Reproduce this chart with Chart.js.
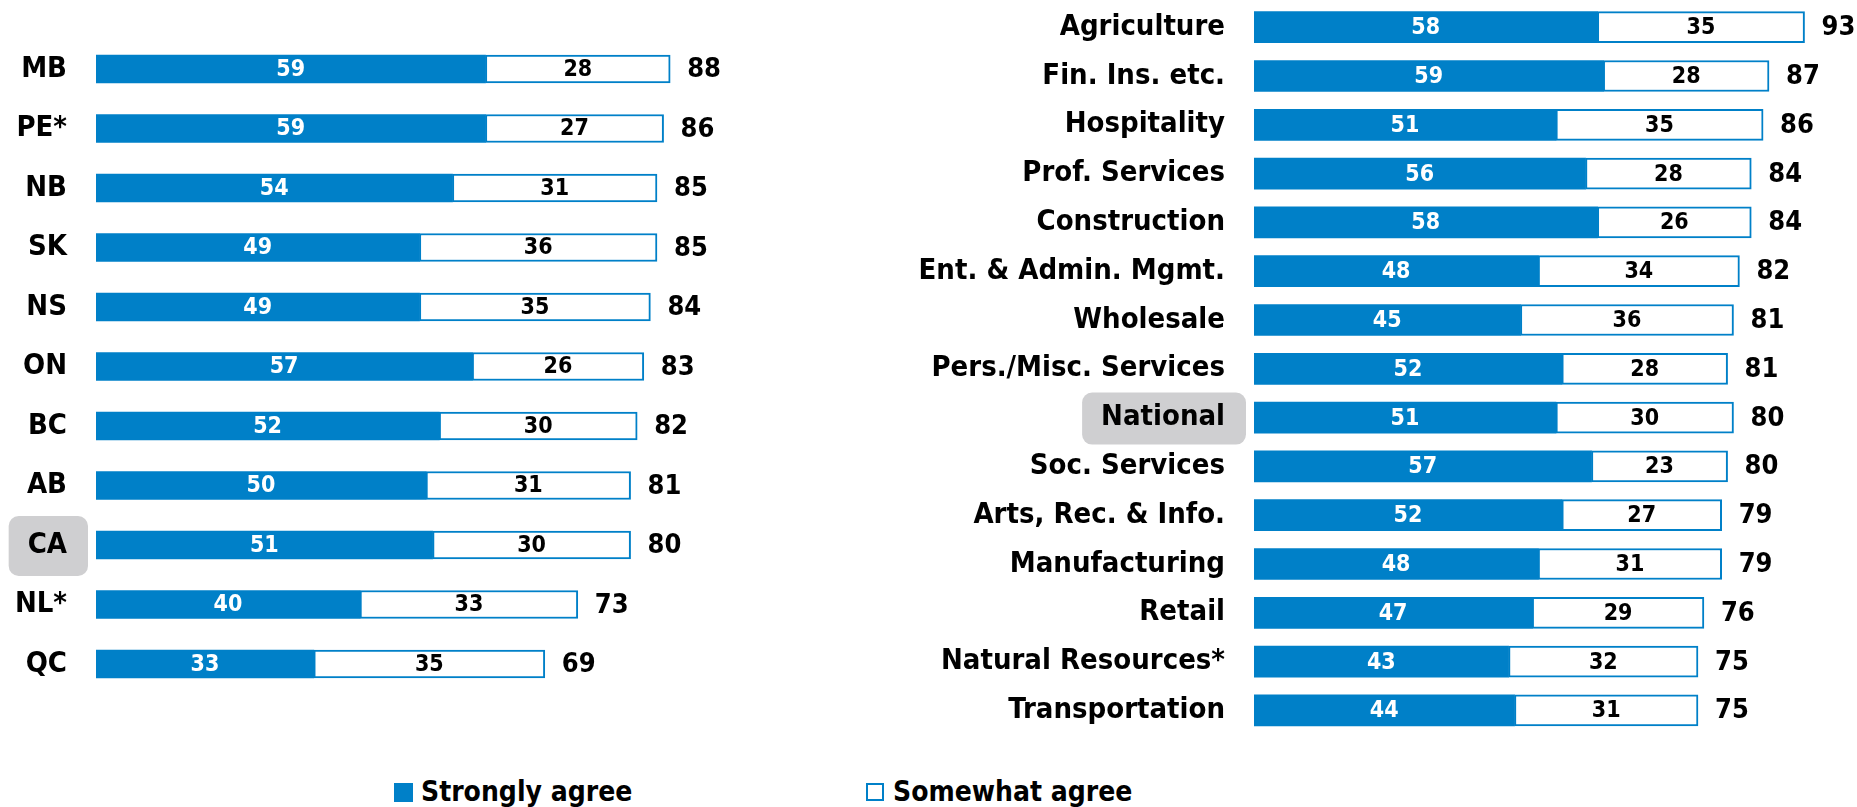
<!DOCTYPE html>
<html>
<head>
<meta charset="utf-8">
<title>Agreement by province and sector</title>
<script src="https://cdn.jsdelivr.net/npm/chart.js@4.4.1/dist/chart.umd.min.js"></script>
<style>
  html, body { margin: 0; padding: 0; background: #fff; }
  body { width: 1857px; height: 807px; position: relative; overflow: hidden;
         font-family: 'DejaVu Sans Condensed', 'DejaVu Sans', sans-serif; font-stretch: condensed; }
  #left { position: absolute; left: 0; top: 0; }
  #right { position: absolute; left: 860px; top: 0; }
  .sq { position: absolute; width: 19px; height: 19px; box-sizing: border-box; }
  .lg { position: absolute; top: 778px; font-size: 28px; line-height: 28px; font-weight: bold; color: #000; white-space: nowrap; }
</style>
</head>
<body>
<canvas id="left" width="756" height="740"></canvas>
<canvas id="right" width="997" height="740"></canvas>

<div class="sq" style="left:394px; top:783px; background:#0080c8;"></div>
<div class="lg" style="left:421px;">Strongly agree</div>
<div class="sq" style="left:866px; top:783px; width:18px; height:18px; background:#fff; border:2px solid #0080c8;"></div>
<div class="lg" style="left:893px;">Somewhat agree</div>

<script>
const FONT = "'DejaVu Sans Condensed', 'DejaVu Sans', sans-serif";
const BLUE = '#0080c8';

// provinces
const provinces = ['MB', 'PE*', 'NB', 'SK', 'NS', 'ON', 'BC', 'AB', 'CA', 'NL*', 'QC'];
const provStrongly = [59, 59, 54, 49, 49, 57, 52, 50, 51, 40, 33];
const provSomewhat = [28, 27, 31, 36, 35, 26, 30, 31, 30, 33, 35];
const provTotal = [88, 86, 85, 85, 84, 83, 82, 81, 80, 73, 69];

// sectors
const sectors = ['Agriculture', 'Fin. Ins. etc.', 'Hospitality', 'Prof. Services', 'Construction',
  'Ent. & Admin. Mgmt.', 'Wholesale', 'Pers./Misc. Services', 'National', 'Soc. Services',
  'Arts, Rec. & Info.', 'Manufacturing', 'Retail', 'Natural Resources*', 'Transportation'];
const secStrongly = [58, 59, 51, 56, 58, 48, 45, 52, 51, 57, 52, 48, 47, 43, 44];
const secSomewhat = [35, 28, 35, 28, 26, 34, 36, 28, 30, 23, 27, 31, 29, 32, 31];
const secTotal = [93, 87, 86, 84, 84, 82, 81, 81, 80, 80, 79, 79, 76, 75, 75];

const seriesNames = ['Strongly agree', 'Somewhat agree'];

function valueLabels(totals) {
    return {
        id: 'valueLabels',
        afterDatasetsDraw(chart) {
            const ctx = chart.ctx;
            ctx.save();
            ctx.textAlign = 'center';
            ctx.textBaseline = 'middle';
            ctx.font = 'bold 23px ' + FONT;
            chart.data.datasets.forEach((ds, di) => {
                const meta = chart.getDatasetMeta(di);
                meta.data.forEach((bar, i) => {
                    const p = bar.getProps(['x', 'base', 'y'], true);
                    ctx.fillStyle = di === 0 ? '#fff' : '#000';
                    ctx.fillText(ds.data[i], (p.x + p.base) / 2, p.y + 1);
                });
            });
            // totals after the end of each bar
            const last = chart.getDatasetMeta(chart.data.datasets.length - 1);
            ctx.textAlign = 'left';
            ctx.fillStyle = '#000';
            ctx.font = 'bold 27px ' + FONT;
            last.data.forEach((bar, i) => {
                ctx.fillText(totals[i], bar.x + 17, bar.y + 1);
            });
            ctx.restore();
        }
    };
}

function highlightBox(label, h) {
    return {
        id: 'highlightBox',
        beforeDraw(chart) {
            const y = chart.scales.y;
            const i = chart.data.labels.indexOf(label);
            const cy = y.getPixelForValue(i) + 1;
            const ctx = chart.ctx;
            ctx.save();
            ctx.font = 'bold 29px ' + FONT;
            const w = ctx.measureText(label).width;
            const right = y.right - 29;
            const x0 = right - w - 19;
            const x1 = right + 21;
            ctx.fillStyle = '#cfcfd1';
            ctx.beginPath();
            ctx.roundRect(x0, cy - h / 2, x1 - x0, h, 10);
            ctx.fill();
            ctx.restore();
        }
    };
}

function drawChart(id, labels, strongly, somewhat, totals, opt) {
    const ctx = document.getElementById(id).getContext('2d');
    return new Chart(ctx, {
        type: 'bar',
        data: {
            labels: labels,
            datasets: [{
                label: seriesNames[0],
                data: strongly,
                backgroundColor: BLUE,
                borderWidth: 0,
                barThickness: opt.thick
            }, {
                label: seriesNames[1],
                data: somewhat,
                backgroundColor: '#fff',
                borderColor: BLUE,
                borderWidth: 2,
                borderSkipped: false,
                barThickness: opt.thick
            }]
        },
        options: {
            indexAxis: 'y',
            responsive: false,
            animation: false,
            devicePixelRatio: 1,
            layout: {
                autoPadding: false,
                padding: opt.padding
            },
            scales: {
                x: { stacked: true, display: false, min: 0, max: 100 },
                y: {
                    stacked: true,
                    border: { display: false },
                    grid: { display: false, drawTicks: false },
                    ticks: {
                        padding: 29,
                        color: '#000',
                        font: { family: FONT, size: 29, weight: 'bold' }
                    },
                    afterFit(scale) {
                        scale.width = opt.axisWidth;
                        scale.paddingTop = 0;
                        scale.paddingBottom = 0;
                    }
                }
            },
            plugins: {
                legend: { display: false },
                tooltip: { enabled: false }
            }
        },
        plugins: [highlightBox(opt.highlight, opt.boxH), valueLabels(totals)]
    });
}

drawChart('left', provinces, provStrongly, provSomewhat, provTotal, {
    thick: 28, axisWidth: 96, highlight: 'CA', boxH: 60,
    padding: { top: 39.25, bottom: 46.25, left: 0, right: 0 }
});

drawChart('right', sectors, secStrongly, secSomewhat, secTotal, {
    thick: 31, axisWidth: 394, highlight: 'National', boxH: 52,
    padding: { top: 2.8, bottom: 5.2, left: 0, right: 11 }
});
</script>
</body>
</html>
